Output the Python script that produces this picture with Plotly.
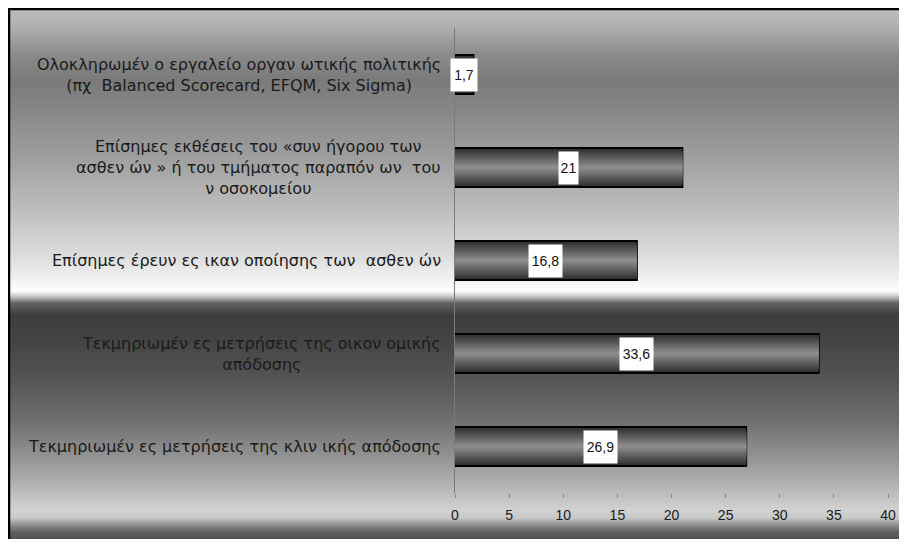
import numpy as np
import plotly.graph_objects as go

# ---- data ----
categories = [
    "Ολοκληρωμέν ο εργαλείο οργαν ωτικής πολιτικής<br>(πχ  Balanced Scorecard, EFQM, Six Sigma)",
    "Επίσημες εκθέσεις του «συν ήγορου των<br>ασθεν ών » ή του τμήματος παραπόν ων  του<br>ν οσοκομείου",
    "Επίσημες έρευν ες ικαν οποίησης των  ασθεν ών",
    "Τεκμηριωμέν ες μετρήσεις της οικον ομικής<br>απόδοσης",
    "Τεκμηριωμέν ες μετρήσεις της κλιν ικής απόδοσης",
]
values = [1.7, 21, 16.8, 33.6, 26.9]
value_labels = ["1,7", "21", "16,8", "33,6", "26,9"]
x_ticks = [0, 5, 10, 15, 20, 25, 30, 35, 40]

# ---- geometry (figure pixels; page has an 8px body margin) ----
OFF = 8
W, H = 907 - 2 * OFF, 547 - 2 * OFF
ML, MT = 455 - OFF, 28 - OFF
MR = W - (888 - OFF)
MB = H - (493 - OFF)
pw = W - ML - MR
ph = H - MT - MB

def px_to_paper_x(px):  # px in page coordinates
    return (px - OFF - ML) / pw

def py_to_paper_y(py):  # py in page coordinates
    return (H - MB - (py - OFF)) / ph

FONT = "Liberation Sans, Arial, sans-serif"
LABEL_FONT = "DejaVu Sans, Liberation Sans, sans-serif"

fig = go.Figure()

# bar with vertical shading: overlay of progressively narrower, lighter bars
n_layers = 14
bar_widths = np.linspace(0.42, 0.03, n_layers)
bar_greys = np.linspace(46, 140, n_layers)
for i, (w, g) in enumerate(zip(bar_widths, bar_greys)):
    gi = int(round(g))
    fig.add_trace(go.Bar(
        y=categories, x=values, orientation="h", width=float(w),
        marker=dict(color=f"rgb({gi},{gi},{gi})",
                    line=dict(color="#000000", width=2 if i == 0 else 0)),
        hoverinfo="skip", showlegend=False,
    ))

fig.update_layout(barmode="overlay")

# value labels in white boxes
for cat, v, t in zip(categories, values, value_labels):
    fig.add_annotation(
        x=v / 2, y=cat, xref="x", yref="y", text=t, showarrow=False,
        font=dict(family=FONT, size=14, color="#111111"),
        bgcolor="#ffffff", width=7 * len(t) + 5, height=32, borderpad=0,
        xanchor="center", yanchor="middle",
    )

# category labels (centered multi-line, right edge near axis)
for cat in categories:
    fig.add_annotation(
        x=0, y=cat, xref="paper", yref="y", text=cat, showarrow=False,
        font=dict(family=LABEL_FONT, size=16, color="#1a1a1a"),
        align="center", xanchor="right", yanchor="middle", xshift=-12,
    )

# background gradient (vertical) as thin stripes, page coordinates
stops_y = [7, 9, 30, 55, 80, 110, 160, 210, 255, 283, 291, 296, 303, 315, 340, 380, 420, 460, 490, 510, 518, 524, 532, 547]
stops_g = [0, 190, 172, 138, 122, 135, 160, 190, 220, 245, 255, 205, 100, 62, 68, 85, 110, 150, 185, 210, 200, 150, 95, 70]
shapes = []
for y0 in range(OFF, H + OFF):
    g = int(round(np.interp(y0 + 0.5, stops_y, stops_g)))
    shapes.append(dict(
        type="rect", xref="paper", yref="paper", layer="below",
        x0=px_to_paper_x(OFF), x1=px_to_paper_x(W + OFF + 2),
        y0=py_to_paper_y(y0 + 1), y1=py_to_paper_y(y0),
        fillcolor=f"rgb({g},{g},{g})", line=dict(width=0),
    ))
# frame (top/left visible; right/bottom run off the picture)
shapes.append(dict(
    type="rect", xref="paper", yref="paper", layer="below",
    x0=px_to_paper_x(OFF + 1), x1=px_to_paper_x(W + OFF + 6),
    y0=py_to_paper_y(H + OFF + 6), y1=py_to_paper_y(OFF + 1),
    fillcolor="rgba(0,0,0,0)", line=dict(color="#000000", width=2.5),
))

fig.update_layout(
    width=W, height=H,
    margin=dict(l=ML, r=MR, t=MT, b=MB, pad=0, autoexpand=False),
    paper_bgcolor="#ffffff", plot_bgcolor="rgba(0,0,0,0)",
    shapes=shapes,
    font=dict(family=FONT, color="#1a1a1a"),
    xaxis=dict(
        range=[0, 40], tickvals=x_ticks, ticktext=[str(t) for t in x_ticks],
        showgrid=False, zeroline=False, showline=False, automargin=False,
        ticks="outside", ticklen=4, tickcolor="#8a8a8a", tickwidth=1,
        ticklabelstandoff=5,
        tickfont=dict(family=FONT, size=14, color="#1a1a1a"),
        fixedrange=True,
    ),
    yaxis=dict(
        categoryorder="array", categoryarray=categories[::-1],
        showticklabels=False, showgrid=False, zeroline=False, automargin=False,
        showline=True, linecolor="#7a7a7a", linewidth=1, ticks="",
        fixedrange=True,
    ),
)

fig.write_html("out.html")
